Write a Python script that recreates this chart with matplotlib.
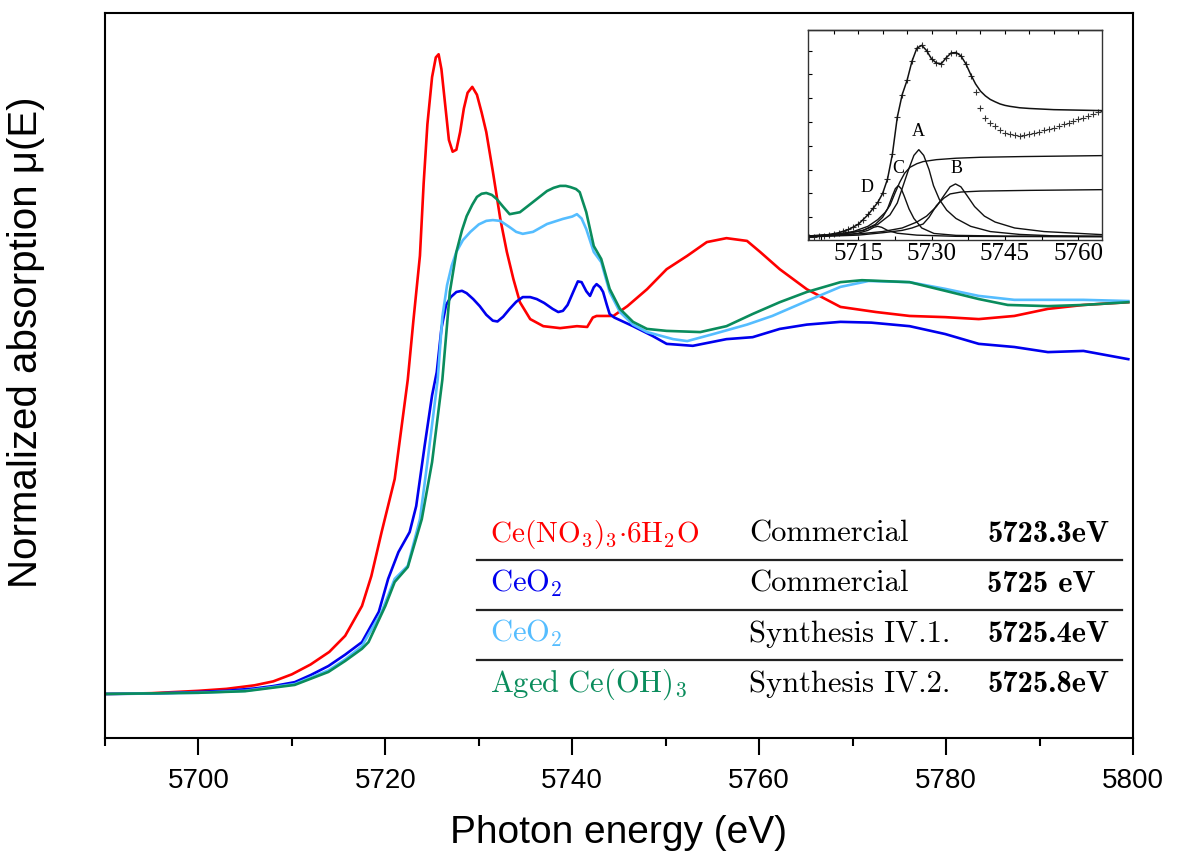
import numpy as np
import matplotlib
matplotlib.use("Agg")
import matplotlib.pyplot as plt
from matplotlib.ticker import MultipleLocator

plt.rcParams['font.family'] = ['Liberation Sans', 'DejaVu Sans']
plt.rcParams['mathtext.fontset'] = 'cm'

# ---------------------------------------------------------------------------
# main XANES spectra (energy in eV, normalized mu)
red_E = [5690, 5695, 5700, 5703, 5706, 5708, 5710, 5712, 5714, 5715.7, 5717.5, 5718.5,
         5719.6, 5721.0, 5722.4, 5723.0, 5723.7, 5724.1, 5724.5, 5725.0, 5725.4, 5725.7,
         5726.0, 5726.4, 5726.8, 5727.2, 5727.6, 5728.0, 5728.4, 5728.8, 5729.3, 5729.8,
         5730.3, 5730.8, 5731.5, 5732.3, 5733.0, 5733.7, 5734.4, 5735.5, 5736.9, 5738.7,
         5740.5, 5741.6, 5742.2, 5742.6, 5744.4, 5745.9, 5748.0, 5750.1, 5752.3, 5754.4,
         5756.5, 5758.7, 5760.1, 5762.2, 5765.1, 5768.7, 5772.5, 5776.1, 5779.9, 5783.5,
         5787.3, 5790.9, 5794.7, 5799.5]
red_mu = [0.0, 0.002, 0.008, 0.013, 0.022, 0.032, 0.05, 0.075, 0.107, 0.148, 0.224, 0.30,
          0.412, 0.547, 0.80, 0.95, 1.115, 1.30, 1.45, 1.57, 1.62, 1.628,
          1.59, 1.50, 1.41, 1.38, 1.385, 1.43, 1.49, 1.53, 1.545, 1.525,
          1.48, 1.43, 1.33, 1.209, 1.125, 1.056, 0.997, 0.954, 0.936, 0.931,
          0.936, 0.934, 0.958, 0.962, 0.962, 0.987, 1.03, 1.081, 1.115, 1.150,
          1.160, 1.153, 1.125, 1.081, 1.03, 0.985, 0.972, 0.962, 0.959, 0.954,
          0.962, 0.98, 0.99, 0.997]

blue_E = [5690, 5695, 5700, 5703, 5706, 5708, 5710.3, 5712, 5713.9, 5715.7, 5717.5, 5719.3,
          5720.3, 5721.4, 5722.6, 5723.3, 5724.2, 5725.0, 5725.5, 5726.0, 5726.5, 5727.0,
          5727.6, 5728.2, 5728.7, 5729.4, 5730.1, 5730.8, 5731.5, 5732.0, 5732.6, 5733.3,
          5734.0, 5734.7, 5735.5, 5736.2, 5737.0, 5737.9, 5738.5, 5739.0, 5739.5, 5740.1,
          5740.6, 5741.0, 5741.5, 5741.9, 5742.3, 5742.6, 5743.0, 5743.3, 5743.7, 5744.0,
          5744.5, 5746.5, 5748.6, 5750.1, 5752.9, 5756.5, 5759.3, 5762.2, 5765.1, 5768.7,
          5772.0, 5776.1, 5779.9, 5783.5, 5787.3, 5790.9, 5794.7, 5799.5]
blue_mu = [0.0, 0.001, 0.005, 0.008, 0.014, 0.02, 0.03, 0.048, 0.071, 0.10, 0.132, 0.209,
           0.293, 0.361, 0.412, 0.478, 0.631, 0.76, 0.819, 0.93, 0.99, 1.01,
           1.023, 1.026, 1.02, 1.005, 0.987, 0.965, 0.950, 0.948, 0.96, 0.98,
           0.998, 1.010, 1.010, 1.005, 0.995, 0.98, 0.972, 0.975, 0.99, 1.023,
           1.05, 1.048, 1.025, 1.013, 1.035, 1.043, 1.035, 1.023, 0.99, 0.967,
           0.958, 0.936, 0.911, 0.891, 0.886, 0.903, 0.908, 0.929, 0.94, 0.947,
           0.945, 0.936, 0.916, 0.891, 0.883, 0.870, 0.873, 0.852]

lblue_E = [5690, 5700, 5705, 5710.3, 5713.9, 5715.7, 5717.5, 5719.6, 5721.0, 5722.4, 5723.7,
           5724.5, 5725.6, 5726.1, 5726.6, 5727.1, 5727.6, 5728.3, 5729.1, 5730.0, 5730.8,
           5731.5, 5732.3, 5733.3, 5734.0, 5734.7, 5735.8, 5737.3, 5739.0, 5740.0, 5740.5,
           5741.0, 5741.5, 5742.3, 5743.1, 5744.0, 5745.1, 5746.5, 5748.0, 5750.8, 5752.3,
           5755.1, 5758.7, 5761.4, 5765.1, 5768.7, 5771.7, 5776.1, 5779.9, 5783.5, 5787.3,
           5794.7, 5799.5]
lblue_mu = [0.0, 0.003, 0.008, 0.025, 0.06, 0.088, 0.122, 0.209, 0.293, 0.326, 0.445,
            0.59, 0.80, 0.96, 1.04, 1.09, 1.125, 1.155, 1.176, 1.195, 1.204,
            1.206, 1.204, 1.188, 1.176, 1.171, 1.176, 1.196, 1.209, 1.215, 1.221,
            1.21, 1.183, 1.125, 1.099, 1.023, 0.972, 0.94, 0.921, 0.903, 0.898,
            0.916, 0.94, 0.962, 1.0, 1.036, 1.051, 1.048, 1.031, 1.013, 1.003,
            1.003, 1.0]

green_E = [5690, 5700, 5705, 5710.3, 5713.9, 5715.7, 5717.5, 5718.2, 5720.0, 5721.0, 5722.4,
           5723.9, 5725.0, 5726.1, 5726.9, 5727.6, 5728.2, 5728.7, 5729.3, 5729.8, 5730.3,
           5730.8, 5731.4, 5731.9, 5732.6, 5733.3, 5734.4, 5735.8, 5737.3, 5738.0, 5738.7,
           5739.3, 5739.8, 5740.4, 5740.8, 5741.5, 5742.3, 5743.1, 5744.0, 5745.1, 5746.5,
           5748.0, 5750.1, 5753.7, 5756.5, 5759.3, 5762.2, 5765.1, 5768.7, 5771.0, 5776.1,
           5779.9, 5783.5, 5786.6, 5790.9, 5794.7, 5799.5]
green_mu = [0.0, 0.003, 0.007, 0.023, 0.056, 0.084, 0.115, 0.132, 0.224, 0.285, 0.323,
            0.445, 0.59, 0.80, 1.023, 1.125, 1.18, 1.216, 1.245, 1.265, 1.273,
            1.275, 1.270, 1.260, 1.24, 1.221, 1.226, 1.252, 1.280, 1.288, 1.293,
            1.293, 1.290, 1.285, 1.277, 1.226, 1.140, 1.107, 1.031, 0.980, 0.947,
            0.929, 0.924, 0.921, 0.936, 0.967, 0.997, 1.023, 1.048, 1.053, 1.048,
            1.026, 1.005, 0.990, 0.987, 0.990, 0.997]

# table rows: sample, origin, edge position
samples = [r'$\mathrm{Ce(NO_3)_3{\cdot}6H_2O}$', r'$\mathrm{CeO_2}$',
           r'$\mathrm{CeO_2}$', r'$\mathrm{Aged\ Ce(OH)_3}$']
sample_sizes = [21, 22, 22, 22]
origins = ['Commercial', 'Commercial', 'Synthesis IV.1.', 'Synthesis IV.2.']
edges = ['5723.3eV', '5725 eV', '5725.4eV', '5725.8eV']
colors = ['#ff0000', '#0000ee', '#55bdff', '#0a8c5c']

# ---------------------------------------------------------------------------
# inset: fit of the Ce L3 edge (energy eV, arbitrary units)
ins_E = list(range(5705, 5766))
ins_exp = [0.16, 0.18, 0.20, 0.23, 0.27, 0.31, 0.36, 0.42, 0.50, 0.60,
           0.72, 0.90, 1.12, 1.38, 1.65, 2.00, 2.60, 3.65, 5.20, 6.15,
           6.75, 7.55, 8.10, 8.22, 8.00, 7.65, 7.48, 7.45, 7.70, 7.90,
           7.92, 7.78, 7.45, 6.95, 6.25, 5.60, 5.18, 4.98, 4.82, 4.68,
           4.55, 4.48, 4.44, 4.43, 4.45, 4.50, 4.55, 4.60, 4.65, 4.70,
           4.76, 4.83, 4.90, 4.97, 5.04, 5.11, 5.18, 5.25, 5.33, 5.41, 5.48]
fit_E = [5705, 5708, 5711, 5713, 5715, 5717, 5719, 5720, 5721, 5722, 5723, 5724, 5725,
         5726, 5727, 5728, 5729, 5730, 5731, 5732, 5733, 5734, 5735, 5736, 5737, 5738,
         5739, 5740, 5741, 5742, 5743, 5744, 5745, 5746, 5748, 5750, 5755, 5760, 5765]
fit_y = [0.18, 0.24, 0.35, 0.48, 0.70, 1.10, 1.62, 2.00, 2.60, 3.65, 5.20, 6.15, 6.75,
         7.55, 8.10, 8.22, 8.00, 7.65, 7.48, 7.45, 7.70, 7.90, 7.92, 7.78, 7.45, 7.00,
         6.60, 6.30, 6.10, 5.95, 5.85, 5.76, 5.70, 5.66, 5.60, 5.57, 5.52, 5.50, 5.48]
step1_E = [5705, 5710, 5714, 5717, 5719, 5720.5, 5721.5, 5722.5, 5723.5, 5724.5, 5725.6,
           5727, 5728.3, 5731, 5735, 5740, 5748.7, 5765]
step1_y = [0.22, 0.28, 0.40, 0.62, 0.90, 1.20, 1.50, 2.00, 2.47, 2.85, 3.10,
           3.25, 3.34, 3.42, 3.48, 3.52, 3.55, 3.59]
step2_E = [5705, 5715, 5720, 5724, 5726, 5728.3, 5729.5, 5731, 5732.5, 5733.8, 5736,
           5740, 5750, 5765]
step2_y = [0.18, 0.25, 0.35, 0.45, 0.55, 0.72, 1.00, 1.49, 1.80, 1.98, 2.06,
           2.10, 2.13, 2.16]
pkA_E = [5705, 5712, 5716, 5719, 5721.5, 5723, 5724.2, 5725.3, 5726.4, 5727.4, 5728.4,
         5729.5, 5730.4, 5731.6, 5733.1, 5735, 5738, 5742, 5748, 5755, 5765]
pkA_y = [0.20, 0.30, 0.45, 0.70, 1.10, 1.60, 2.33, 3.00, 3.60, 3.84, 3.60,
         3.00, 2.33, 1.75, 1.30, 0.95, 0.62, 0.40, 0.28, 0.22, 0.20]
pkB_E = [5705, 5715, 5720, 5724, 5727, 5729, 5731, 5732.5, 5733.8, 5734.9, 5736,
         5737.3, 5738.8, 5740.8, 5743, 5747, 5753, 5765]
pkB_y = [0.22, 0.30, 0.40, 0.55, 0.80, 1.05, 1.45, 1.90, 2.28, 2.40, 2.28,
         1.90, 1.45, 1.05, 0.80, 0.55, 0.40, 0.27]
pkC_E = [5705, 5712, 5716, 5718.5, 5720, 5721, 5722, 5722.6, 5723.2, 5723.8, 5724.4,
         5725.4, 5726.4, 5728, 5730.5, 5735, 5745, 5765]
pkC_y = [0.20, 0.30, 0.45, 0.70, 1.00, 1.35, 1.90, 2.20, 2.33, 2.20, 1.90,
         1.35, 0.95, 0.55, 0.32, 0.24, 0.21, 0.20]
pkD_E = [5705, 5712, 5715, 5717, 5718.2, 5719, 5719.8, 5721, 5723, 5727, 5735, 5765]
pkD_y = [0.18, 0.25, 0.33, 0.45, 0.58, 0.62, 0.58, 0.45, 0.33, 0.25, 0.20, 0.18]
peak_labels = ['A', 'B', 'C', 'D']
peak_label_pos = [(5727.4, 4.3), (5735.1, 2.75), (5723.2, 2.75), (5716.8, 1.95)]

# ---------------------------------------------------------------------------
fig = plt.figure(figsize=(11.77, 8.54), dpi=100)
ax = fig.add_axes([0.0892, 0.1347, 0.8734, 0.8489])

series = [(red_E, red_mu), (blue_E, blue_mu), (lblue_E, lblue_mu), (green_E, green_mu)]
for (e, mu), col in zip(series, colors):
    ax.plot(e, mu, color=col, lw=1.9)

ax.set_xlim(5690, 5800)
ax.set_ylim(-0.112, 1.733)
ax.xaxis.set_major_locator(MultipleLocator(20))
ax.xaxis.set_minor_locator(MultipleLocator(10))
ax.tick_params(axis='x', which='major', direction='out', length=12, width=1.5,
               labelsize=20, pad=9)
ax.tick_params(axis='x', which='minor', direction='out', length=6, width=1.5)
ax.tick_params(axis='y', left=False, labelleft=False)
for sp in ax.spines.values():
    sp.set_linewidth(1.5)
ax.set_xlabel('Photon energy (eV)', fontsize=28, labelpad=15)
ax.set_ylabel('Normalized absorption \u03bc(E)', fontsize=29)
ax.yaxis.set_label_coords(-0.0584, 0.5476)

# table of edge positions
col_x = [0.3745, 0.6265, 0.858]
row_y = [0.2717, 0.2028, 0.1338, 0.0648]
for i in range(4):
    ax.text(col_x[0], row_y[i], samples[i], color=colors[i], fontsize=sample_sizes[i],
            transform=ax.transAxes, va='baseline')
    ax.text(col_x[1], row_y[i], origins[i], color='black', fontsize=22,
            family='cmr10', transform=ax.transAxes, va='baseline')
    ax.text(col_x[2], row_y[i], edges[i], color='black', fontsize=22,
            family='cmb10', transform=ax.transAxes, va='baseline')
for yl in [0.2455, 0.1766, 0.1076]:
    ax.plot([0.3619, 0.9893], [yl, yl], color='#222222', lw=1.6, transform=ax.transAxes)

# inset
axi = fig.add_axes([0.6867, 0.7182, 0.2498, 0.2459])
axi.plot(ins_E, ins_exp, ls='none', marker='+', ms=5, mew=0.8, color='#333333')
axi.plot(fit_E, fit_y, color='#111111', lw=1.1)
for e, y in [(step1_E, step1_y), (step2_E, step2_y), (pkA_E, pkA_y),
             (pkB_E, pkB_y), (pkC_E, pkC_y), (pkD_E, pkD_y)]:
    axi.plot(e, y, color='#111111', lw=1.0)
for lab, (xe, yv) in zip(peak_labels, peak_label_pos):
    axi.text(xe, yv, lab, fontsize=13, ha='center', va='bottom',
             family=['Liberation Serif', 'DejaVu Serif'])
axi.set_xlim(5704.8, 5764.9)
axi.set_ylim(0.06, 8.88)
axi.set_xticks([5707.5, 5715, 5722.5, 5730, 5737.5, 5745, 5752.5, 5760])
axi.set_xticklabels(['', '5715', '', '5730', '', '5745', '', '5760'])
axi.yaxis.set_major_locator(MultipleLocator(1))
axi.tick_params(axis='x', direction='in', length=3, width=0.8, labelsize=18, pad=2)
axi.tick_params(axis='y', direction='in', length=3, width=0.8, labelleft=False)
for lbl in axi.get_xticklabels():
    lbl.set_family(['Liberation Serif', 'DejaVu Serif'])
top = axi.secondary_xaxis('top')
top.set_xticks(np.arange(5710, 5765, 5))
top.tick_params(direction='in', length=3, width=0.8, labeltop=False)
for sp in list(axi.spines.values()) + [top.spines['top']]:
    sp.set_linewidth(1.0)
    sp.set_color('#333333')

fig.savefig('out.png', dpi=100)
